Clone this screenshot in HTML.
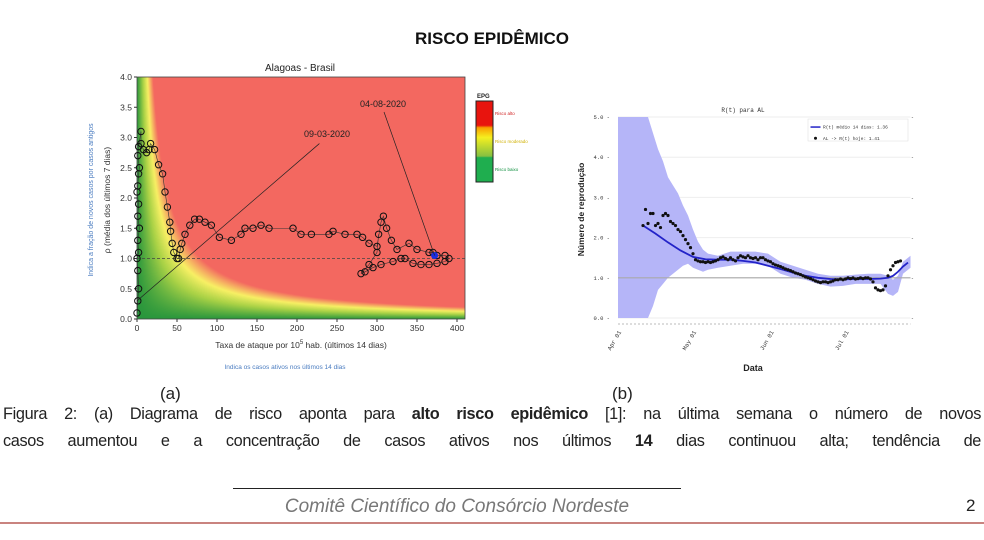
<!DOCTYPE html>
<html><head><meta charset="utf-8">
<style>
body{margin:0;width:984px;height:540px;background:#fff;position:relative;overflow:hidden;font-family:"Liberation Sans",sans-serif}
.abs{position:absolute}
#cap{left:3px;width:978px;top:401px;font-size:16.3px;line-height:27px;color:#222;text-align:justify;text-align-last:justify;letter-spacing:-0.35px}
#cap div{text-align-last:justify}
</style></head><body>
<div class="abs" style="left:0;width:984px;top:29px;text-align:center;font-weight:bold;font-size:17px;color:#111">RISCO EPIDÊMICO</div>
<canvas id="bg" class="abs" width="328" height="242" style="left:137px;top:77px"></canvas>
<svg id="left" class="abs" style="left:0;top:0" width="560" height="380"></svg>
<svg id="right" class="abs" style="left:560px;top:90px" width="370" height="300"></svg>
<div class="abs" style="left:160px;top:384px;font-size:17px;color:#222">(a)</div>
<div class="abs" style="left:612px;top:384px;font-size:17px;color:#222">(b)</div>
<div id="cap" class="abs">
<div>Figura 2: (a) Diagrama de risco aponta para <b>alto risco epidêmico</b> [1]: na última semana o número de novos</div>
<div>casos aumentou e a concentração de casos ativos nos últimos <b>14</b> dias continuou alta; tendência de</div>
</div>
<div class="abs" style="left:233px;top:488px;width:448px;height:1px;background:#222"></div>
<div class="abs" style="left:233px;width:448px;top:496px;text-align:center;font-style:italic;font-size:19px;color:#777">Comitê Científico do Consórcio Nordeste</div>
<div class="abs" style="left:966px;top:496px;font-size:17px;color:#222">2</div>
<div class="abs" style="left:0;top:522px;width:984px;height:2px;background:#c9837f"></div>
<script>
// ---- Left chart data ----
const riskX=[0,1,2,1,0,2,1,3,1,2,0,1,2,3,1,2,5,5,8,12,15,17,22,27,32,35,38,41,42,44,46,50,52,54,56,60,66,72,78,85,93,103,118,130,135,145,155,165,195,205,218,240,245,260,275,282,290,300,305,308,312,318,325,340,350,365,370,375,385,390,385,375,365,355,345,335,330,320,305,295,285,280,290,300,302];
const riskY=[0.1,0.3,0.5,0.8,1.0,1.1,1.3,1.5,1.7,1.9,2.1,2.2,2.4,2.5,2.7,2.85,3.1,2.9,2.8,2.75,2.8,2.9,2.8,2.55,2.4,2.1,1.85,1.6,1.45,1.25,1.1,1.0,1.0,1.15,1.25,1.4,1.55,1.65,1.65,1.6,1.55,1.35,1.3,1.4,1.5,1.5,1.55,1.5,1.5,1.4,1.4,1.4,1.45,1.4,1.4,1.35,1.25,1.2,1.6,1.7,1.5,1.3,1.15,1.25,1.15,1.1,1.1,1.05,1.05,1.0,0.95,0.92,0.9,0.9,0.92,1.0,1.0,0.95,0.9,0.85,0.78,0.75,0.9,1.1,1.4];
const lastX=[372],lastY=[1.05];
const xTicks=[0,50,100,150,200,250,300,350,400];
const yTicks=[0.0,0.5,1.0,1.5,2.0,2.5,3.0,3.5,4.0];
const NS='http://www.w3.org/2000/svg';
function mk(p,t,a,txt){const e=document.createElementNS(NS,t);for(const k in a)e.setAttribute(k,a[k]);if(txt!==undefined)e.textContent=txt;p.appendChild(e);return e;}
const X0=137,X1=465,XMAX=410,Y0=319,Y1=77;
const sx=v=>X0+v*(X1-X0)/XMAX, sy=v=>Y0-v*(Y0-Y1)/4;
// background
(function(){const c=document.getElementById('bg').getContext('2d');const W=328,H=242;const img=c.createImageData(W,H);
function lerp(a,b,t){return a.map((x,i)=>x+(b[i]-x)*t);}
const g0=[40,150,60],g1=[170,210,70],yl=[248,240,100],rd=[243,104,96];
for(let j=0;j<H;j++)for(let i=0;i<W;i++){const xv=(i+0.5)*XMAX/W,yv=(H-j-0.5)*4/H;const v=xv*yv;let col;
if(v<30)col=lerp(g0,g1,v/30);else if(v<52)col=lerp(g1,yl,(v-30)/22);else if(v<80)col=lerp(yl,rd,(v-52)/28);else col=rd;
const k=(j*W+i)*4;img.data[k]=col[0];img.data[k+1]=col[1];img.data[k+2]=col[2];img.data[k+3]=255;}
c.putImageData(img,0,0);})();
const L=document.getElementById('left');
let e;
e=mk(L,'text',{x:300,y:71,'text-anchor':'middle','font-size':10,fill:'#222'},'Alagoas - Brasil');

mk(L,'rect',{x:X0,y:Y1,width:X1-X0,height:Y0-Y1,fill:'none',stroke:'#444','stroke-width':0.8});
mk(L,'line',{x1:X0,x2:X1,y1:sy(1),y2:sy(1),stroke:'#444','stroke-dasharray':'3,2','stroke-width':0.8});
xTicks.forEach(t=>{mk(L,'line',{x1:sx(t),x2:sx(t),y1:Y0,y2:Y0+3,stroke:'#333'});
 e=mk(L,'text',{x:sx(t),y:Y0+12,'text-anchor':'middle','font-size':8.5,fill:'#333'},t);
 });
yTicks.forEach(t=>{mk(L,'line',{x1:X0-3,x2:X0,y1:sy(t),y2:sy(t),stroke:'#333'});
 e=mk(L,'text',{x:X0-5,y:sy(t)+3,'text-anchor':'end','font-size':8.5,fill:'#333'},t.toFixed(1));
 });
e=mk(L,'text',{x:301,y:348,'text-anchor':'middle','font-size':8.5,fill:'#333'});
e.innerHTML='Taxa de ataque por 10<tspan dy="-4" font-size="6">5</tspan><tspan dy="4"> hab. (últimos 14 dias)</tspan>';

e=mk(L,'text',{x:285,y:369,'text-anchor':'middle','font-size':6.5,fill:'#4a7cc0'},'Indica os casos ativos nos últimos 14 dias');

e=mk(L,'text',{x:110,y:200,'text-anchor':'middle','font-size':8.5,fill:'#333',transform:'rotate(-90 110 200)'},'ρ (média dos últimos 7 dias)');

e=mk(L,'text',{x:93,y:200,'text-anchor':'middle','font-size':7,fill:'#4a7cc0',transform:'rotate(-90 93 200)'},'Indica a fração de novos casos por casos antigos');

// trajectory
let d='';riskX.forEach((x,i)=>{d+=(i?'L':'M')+sx(x)+' '+sy(riskY[i]);});
mk(L,'path',{d:d,fill:'none',stroke:'#333','stroke-width':0.6});
riskX.forEach((x,i)=>{e=mk(L,'circle',{cx:sx(x),cy:sy(riskY[i]),r:3.2,fill:'none',stroke:'#111','stroke-width':1});
 });
e=mk(L,'circle',{cx:sx(lastX[0]),cy:sy(lastY[0]),r:3.5,fill:'#1a2ee0'});

// annotations
mk(L,'line',{x1:sx(0),y1:sy(0.3),x2:sx(228),y2:sy(2.9),stroke:'#222','stroke-width':0.7});
e=mk(L,'text',{x:327,y:137,'text-anchor':'middle','font-size':9,fill:'#222'},'09-03-2020');

mk(L,'line',{x1:384,y1:112,x2:sx(lastX[0]),y2:sy(lastY[0]),stroke:'#222','stroke-width':0.7});
e=mk(L,'text',{x:383,y:107,'text-anchor':'middle','font-size':9,fill:'#222'},'04-08-2020');

// colorbar legend
const gd=mk(mk(L,'defs',{}),'linearGradient',{id:'cb',x1:0,y1:0,x2:0,y2:1});
[[0,'#e8140e'],[0.3,'#e8140e'],[0.33,'#f9a000'],[0.45,'#f5ef20'],[0.68,'#86c040'],[0.7,'#1fae4f'],[1,'#1fae4f']].forEach(s=>mk(gd,'stop',{offset:s[0],'stop-color':s[1]}));
e=mk(L,'rect',{x:476,y:101,width:17,height:81,fill:'url(#cb)',stroke:'#222','stroke-width':1});

mk(L,'text',{x:477,y:98,'font-size':6,'font-weight':'bold',fill:'#222'},'EPG');
e=mk(L,'text',{x:495,y:115,'font-size':4.5,fill:'#d02020'},'Risco alto');
e=mk(L,'text',{x:495,y:143,'font-size':4.5,fill:'#d0b000'},'Risco moderado');
e=mk(L,'text',{x:495,y:171,'font-size':4.5,fill:'#109040'},'Risco baixo');

// ---- Right chart data (days since Apr 01) ----
const rtStartDay=10;
const rtValues=[2.3,2.7,2.35,2.6,2.6,2.3,2.35,2.25,2.55,2.6,2.55,2.4,2.35,2.3,2.2,2.15,2.05,1.95,1.85,1.75,1.6,1.45,1.42,1.4,1.4,1.38,1.4,1.38,1.4,1.42,1.45,1.5,1.52,1.48,1.45,1.5,1.45,1.42,1.5,1.55,1.52,1.5,1.55,1.5,1.48,1.5,1.45,1.5,1.5,1.45,1.42,1.4,1.35,1.32,1.3,1.28,1.25,1.22,1.2,1.18,1.15,1.12,1.1,1.08,1.05,1.02,1.0,0.98,0.95,0.92,0.9,0.88,0.9,0.9,0.88,0.9,0.92,0.95,0.95,0.97,0.95,0.97,1.0,0.98,1.0,0.97,0.98,1.0,0.98,1.0,1.0,0.97,0.9,0.75,0.7,0.68,0.7,0.8,1.05,1.2,1.3,1.38,1.4,1.42];
const avgDays=[10,15,20,25,30,35,40,45,50,55,60,65,70,75,80,85,90,95,100,105,108,110,112,114,116];
const avgValues=[2.3,2.1,1.88,1.68,1.52,1.46,1.45,1.45,1.42,1.38,1.3,1.22,1.13,1.05,1.0,0.97,0.96,0.97,0.97,0.98,1.0,1.05,1.15,1.28,1.38];
const bandDays=[0,10,12,14,16,18,20,22,24,26,28,30,32,34,36,40,45,50,55,60,65,70,75,80,85,90,95,100,105,108,110,112,114,117];
const bandUpper=[5,5,5,4.6,4.2,3.9,3.5,3.3,3.1,2.8,2.55,2.2,1.9,1.7,1.6,1.55,1.65,1.65,1.65,1.6,1.4,1.3,1.2,1.1,1.05,1.05,1.08,1.1,1.1,1.05,0.95,1.05,1.4,1.55];
const bandLower=[0,0,0,0.3,0.7,0.85,1.0,1.1,1.2,1.3,1.35,1.25,1.2,1.15,1.2,1.25,1.3,1.35,1.35,1.3,1.1,1.0,0.95,0.85,0.78,0.8,0.85,0.85,0.85,0.6,0.55,0.65,1.1,1.25];
const rtYTicks=[0,1,2,3,4,5];
const dateTicks=[0,30,61,91];
const dateLabels=['Apr 01','May 01','Jun 01','Jul 01'];
const R=document.getElementById('right');
const OX=560,OY=90;
const rx=d=>618-OX+d*2.5, ry=v=>318-OY-v*(318-117)/5;
e=mk(R,'text',{x:rx(50),y:22,'text-anchor':'middle','font-size':6,'font-family':'Liberation Mono,monospace',fill:'#333'},'R(t) para AL');

rtYTicks.forEach(t=>{mk(R,'line',{x1:rx(0),x2:rx(117),y1:ry(t),y2:ry(t),stroke:'#eee','stroke-width':1});
 e=mk(R,'text',{x:rx(0)-8,y:ry(t)+2,'text-anchor':'end','font-size':5.5,'font-family':'Liberation Mono,monospace',fill:'#333'},t.toFixed(1)+' -');
 
 mk(R,'text',{x:rx(117)+1,y:ry(t)+2,'font-size':5.5,fill:'#333'},'-');});
// band
let bp='';bandDays.forEach((dd,i)=>{bp+=(i?'L':'M')+rx(dd)+' '+ry(bandUpper[i]);});
for(let i=bandDays.length-1;i>=0;i--)bp+='L'+rx(bandDays[i])+' '+ry(bandLower[i]);
e=mk(R,'path',{d:bp+'Z',fill:'#b5b5f8'});
mk(R,'line',{x1:rx(0),x2:rx(117),y1:ry(1),y2:ry(1),stroke:'#aaa','stroke-width':1.2});
let ap='';avgDays.forEach((dd,i)=>{ap+=(i?'L':'M')+rx(dd)+' '+ry(avgValues[i]);});
e=mk(R,'path',{d:ap,fill:'none',stroke:'#2323c8','stroke-width':1.8});
rtValues.forEach((v,i)=>{e=mk(R,'circle',{cx:rx(rtStartDay+i),cy:ry(v),r:1.6,fill:'#111'});
 });
mk(R,'line',{x1:rx(0),x2:rx(117),y1:ry(-0.15),y2:ry(-0.15),stroke:'#bbb','stroke-dasharray':'2,2'});
dateTicks.forEach((t,i)=>{const x=rx(t),y=ry(-0.3);
 e=mk(R,'text',{x:x,y:y+4,'text-anchor':'end','font-size':6,'font-family':'Liberation Mono,monospace',fill:'#333',transform:`rotate(-60 ${x} ${y})`},dateLabels[i]);
 });
e=mk(R,'text',{x:rx(54),y:281,'text-anchor':'middle','font-size':9,'font-weight':'bold',fill:'#222'},'Data');

e=mk(R,'text',{x:24,y:ry(2.7),'text-anchor':'middle','font-size':8.5,'font-weight':'bold',fill:'#222',transform:`rotate(-90 24 ${ry(2.7)})`},'Número de reprodução');

// legend
e=mk(R,'rect',{x:rx(76),y:ry(4.95),width:rx(116)-rx(76),height:22,fill:'#fff',stroke:'#ddd','stroke-width':0.5});

mk(R,'line',{x1:rx(77),x2:rx(81),y1:ry(4.75),y2:ry(4.75),stroke:'#2323c8','stroke-width':1.5});
e=mk(R,'text',{x:rx(82),y:ry(4.75)+1.5,'font-size':4.5,'font-family':'Liberation Mono,monospace',fill:'#333'},'R(t) médio 14 dias: 1.36');

mk(R,'circle',{cx:rx(79),cy:ry(4.47),r:1.5,fill:'#111'});
e=mk(R,'text',{x:rx(82),y:ry(4.47)+1.5,'font-size':4.5,'font-family':'Liberation Mono,monospace',fill:'#333'},'AL -> R(t) hoje: 1.41');

</script>
</body></html>
